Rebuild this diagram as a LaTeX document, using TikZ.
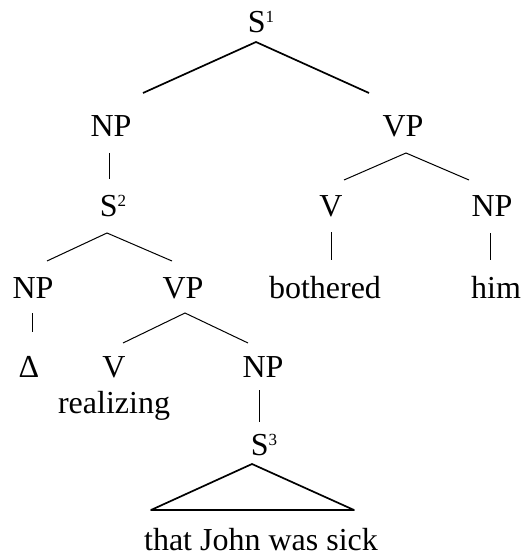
\documentclass[tikz,border=0pt]{standalone}
\usepackage{fontspec}
\setmainfont{Liberation Serif}
\usetikzlibrary{calc}
\newcommand{\idx}[1]{\raisebox{10bp}{\fontsize{17bp}{17bp}\selectfont #1}}

\begin{document}
\begin{tikzpicture}
[x=1bp, y=-1bp,
cat/.style={inner sep=0pt, anchor=base, font=\fontsize{32bp}{38bp}\selectfont},
branch/.style={line width=1bp},
heavy/.style={line width=1.7bp, line join=round},]
\useasboundingbox (0,0) rectangle (530,556);

\node (s1) [cat] at (261,33) {S\idx{1}};
\node (np1) [cat] at (111,137) {NP};
\node (vp1) [cat] at (403,137) {VP};
\node (s2) [cat] at (113,217) {S\idx{2}};
\node (v1) [cat] at (331,217) {V};
\node (np2) [cat] at (492,217) {NP};
\node (np3) [cat] at (33,298) {NP};
\node (vp2) [cat] at (183,298) {VP};
\node (bothered) [cat] at (325,298) {bothered};
\node (him) [cat] at (496,298) {him};
\node (delta) [cat] at (29,377) {Δ};
\node (v2) [cat] at (114,377) {V};
\node (np4) [cat] at (263,377) {NP};
\node (realizing) [cat] at (114,413) {realizing};
\node (s3) [cat] at (264,455) {S\idx{3}};
\node (sick) [cat] at (261,550) {that John was sick};

\draw [heavy] ($(np1.base)+(32,-44)$) -- ($(s1.base)+(-5,9)$) -- ($(vp1.base)+(-34,-44)$);
\draw [branch] ($(np1.base)+(-2,16)$) -- ($(s2.base)+(-4,-38)$);
\draw [branch] ($(v1.base)+(13,-37)$) -- ($(vp1.base)+(3,16)$) -- ($(np2.base)+(-23,-37)$);
\draw [branch] ($(np3.base)+(14,-37)$) -- ($(s2.base)+(-6,16)$) -- ($(vp2.base)+(-11,-37)$);
\draw [branch] ($(v1.base)+(0,15)$) -- ($(bothered.base)+(6,-38)$);
\draw [branch] ($(np2.base)+(-2,16)$) -- ($(him.base)+(-6,-38)$);
\draw [branch] ($(np3.base)+(-1,15)$) -- ($(delta.base)+(3,-45)$);
\draw [branch] ($(v2.base)+(9,-34)$) -- ($(vp2.base)+(2,15)$) -- ($(np4.base)+(-15,-34)$);
\draw [branch] ($(np4.base)+(-4,13)$) -- ($(s3.base)+(-5,-33)$);

\draw [heavy] ($(s3.base)+(-12,9)$) -- ($(sick.base)+(-110,-40)$) -- ($(sick.base)+(93,-40)$) -- cycle;

\end{tikzpicture}
\end{document}
